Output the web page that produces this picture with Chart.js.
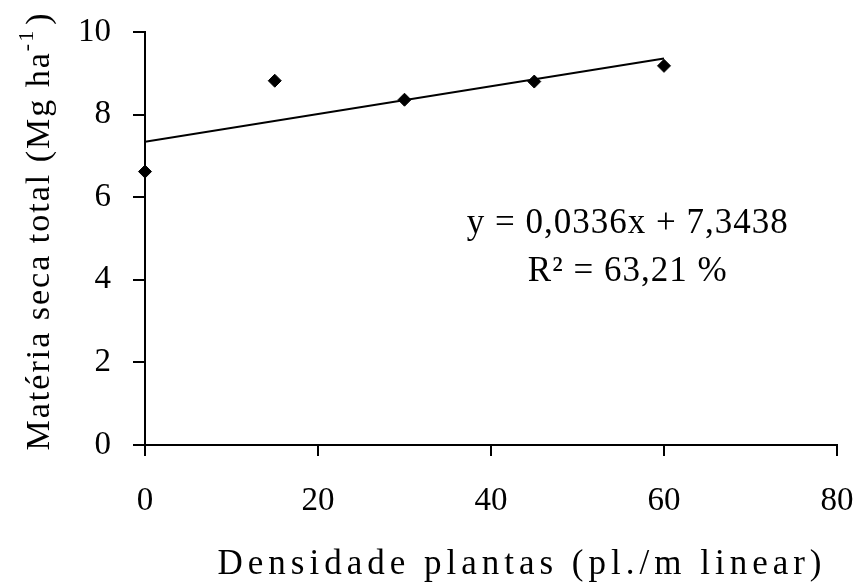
<!DOCTYPE html>
<html>
<head>
<meta charset="utf-8">
<script src="https://cdn.jsdelivr.net/npm/chart.js@4"></script>
<style>
  html, body { margin: 0; padding: 0; background: #fff; }
  #wrap { width: 857px; height: 582px; }
</style>
</head>
<body>
<div id="wrap"><canvas id="myChart"></canvas></div>
<script>
// data
const densidade = [0, 15, 30, 45, 60];
const materiaSeca = [6.62, 8.82, 8.36, 8.8, 9.18];
// fitted line y = 0,0336x + 7,3438 (end points)
const trendX = [0, 60];
const trendY = [7.34, 9.36];
const xTicks = [0, 20, 40, 60, 80];
const yTicks = [0, 2, 4, 6, 8, 10];
const equation = "y = 0,0336x + 7,3438";
const r2Label = "R² = 63,21 %";
const xTitle = "Densidade plantas (pl./m linear)";
const yTitle = ["Matéria seca total (Mg ha", "-1", ")"];

const serif = "'Liberation Serif', 'DejaVu Serif', serif";

// equation + axis titles (drawn by hand to get the wide letter spacing of the original)
const textPlugin = {
  id: 'textPlugin',
  afterDraw(chart) {
    const c = chart.ctx;
    const xs = chart.scales.x, ys = chart.scales.y;
    c.save();
    c.fillStyle = '#000';
    c.textBaseline = 'middle';

    // equation
    c.font = "35px " + serif;
    c.letterSpacing = '1px';
    c.textAlign = 'center';
    c.fillText(equation, xs.getPixelForValue(55.8), ys.getPixelForValue(5.35));
    c.fillText(r2Label, xs.getPixelForValue(55.8), ys.getPixelForValue(4.2));

    // x title
    c.font = "35px " + serif;
    c.letterSpacing = '5px';
    c.fillText(xTitle, 522, 565);

    // y title, rotated, with superscript
    c.translate(40, 231);
    c.rotate(-Math.PI / 2);
    c.textAlign = 'left';
    c.font = "34px " + serif;
    c.letterSpacing = '2px';
    const w1 = c.measureText(yTitle[0]).width;
    c.font = "22px " + serif;
    const w2 = c.measureText(yTitle[1]).width;
    c.font = "34px " + serif;
    const w3 = c.measureText(yTitle[2]).width;
    let x0 = -(w1 + w2 + w3 + 4) / 2;
    c.fillText(yTitle[0], x0, 0);
    c.font = "22px " + serif;
    c.fillText(yTitle[1], x0 + w1, -13);
    c.font = "34px " + serif;
    c.fillText(yTitle[2], x0 + w1 + w2 + 4, 0);
    c.restore();
  }
};

var ctx = document.getElementById('myChart').getContext('2d');
new Chart(ctx, {
  type: 'scatter',
  data: {
    datasets: [
      {
        type: 'line',
        data: trendX.map((x, i) => ({x: x, y: trendY[i]})),
        borderColor: '#000',
        borderWidth: 2,
        pointRadius: 0,
        fill: false
      },
      {
        data: densidade.map((x, i) => ({x: x, y: materiaSeca[i]})),
        pointStyle: 'rectRot',
        pointRadius: 6.5,
        backgroundColor: '#000',
        borderColor: '#000',
        clip: false
      }
    ]
  },
  options: {
    responsive: true,
    maintainAspectRatio: false,
    animation: false,
    layout: { padding: { top: 32, right: 20, left: 0, bottom: 0 } },
    plugins: { legend: { display: false }, tooltip: { enabled: false } },
    scales: {
      x: {
        type: 'linear',
        min: 0, max: 80,
        afterBuildTicks: (s) => { s.ticks = xTicks.map(v => ({value: v})); },
        afterFit: (s) => { s.height = 137; s.paddingRight = 0; s.paddingLeft = 0; },
        grid: { display: true, drawOnChartArea: false, drawTicks: true, tickLength: 11, color: '#000', lineWidth: 2 },
        border: { display: true, color: '#000', width: 2 },
        ticks: { color: '#000', font: { family: serif, size: 33 }, padding: 26, maxRotation: 0 }
      },
      y: {
        type: 'linear',
        min: 0, max: 10,
        afterBuildTicks: (s) => { s.ticks = yTicks.map(v => ({value: v})); },
        afterFit: (s) => { s.width = 145; s.paddingTop = 0; s.paddingBottom = 0; },
        grid: { display: true, drawOnChartArea: false, drawTicks: true, tickLength: 12, color: '#000', lineWidth: 2 },
        border: { display: true, color: '#000', width: 2 },
        ticks: { color: '#000', font: { family: serif, size: 33 }, padding: 22 }
      }
    }
  },
  plugins: [textPlugin]
});
</script>
</body>
</html>
